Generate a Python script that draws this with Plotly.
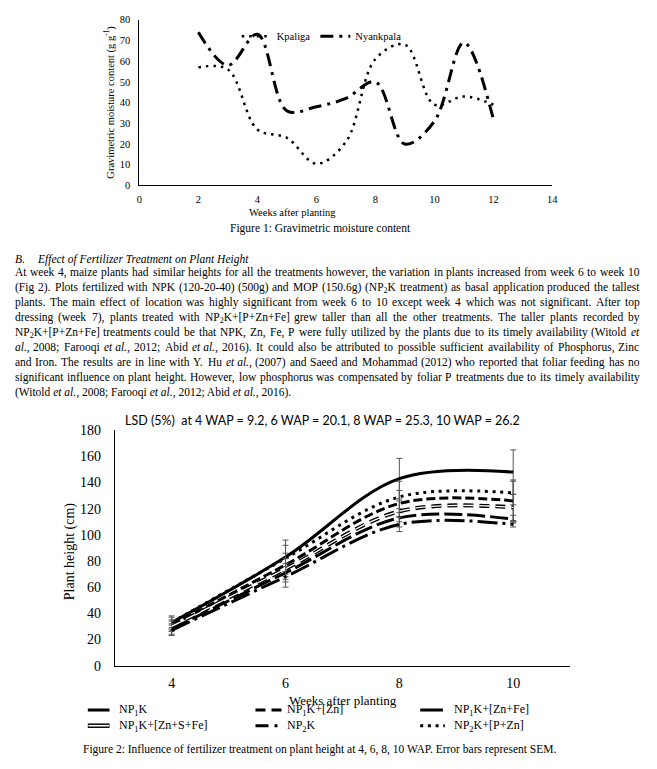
import re
import plotly.graph_objects as go

# ---------------- data ----------------
# Figure 1: gravimetric moisture content
weeks1 = [2, 3, 4, 5, 6, 7, 8, 9, 10, 11, 12]
kpaliga = [57, 56, 27, 23, 10.5, 21, 61, 68, 39, 43, 39]
nyankpala = [74, 58, 73, 36, 38, 42, 50, 20, 31, 69, 32]

# Figure 2: plant height (cm) at 4, 6, 8, 10 WAP
weeks2 = [4, 6, 8, 10]
np1k = [33, 83, 143, 148]
np2k_p_zn = [33, 82, 129, 132]
np1k_zn = [31, 77, 124, 126]
np1k_zn_s_fe = [30, 74, 118, 121]
np1k_zn_fe = [28, 71, 113, 112]
np2k = [27, 68, 108, 108]
# standard errors
se_np1k = [5, 13, 15.5, 17]
se_np2k_p_zn = [4, 10, 12, 9]
se_np1k_zn = [4, 9, 10, 16]
se_np1k_zn_s_fe = [4, 8, 8, 10]
se_np1k_zn_fe = [4, 7, 7, 3]
se_np2k = [4, 8, 5.5, 2]

names2 = ["NP<sub>1</sub>K", "NP<sub>1</sub>K+[Zn]", "NP<sub>1</sub>K+[Zn+Fe]",
          "NP<sub>1</sub>K+[Zn+S+Fe]", "NP<sub>2</sub>K", "NP<sub>2</sub>K+[P+Zn]"]

# ---------------- layout helpers ----------------
W, H = 657, 769
SERIF = "Liberation Serif, Times New Roman, serif"


def px(x):
    return x / W


def py(y):
    return 1 - y / H


fig = go.Figure()

# ---------------- Figure 1 traces ----------------
fig.add_trace(go.Scatter(
    x=weeks1, y=kpaliga, name="Kpaliga", mode="lines",
    line=dict(color="black", width=2.5, dash="2.5px,5px", shape="spline", smoothing=1),
    xaxis="x", yaxis="y", legend="legend"))
fig.add_trace(go.Scatter(
    x=weeks1, y=nyankpala, name="Nyankpala", mode="lines",
    line=dict(color="black", width=3, dash="13px,6px,3px,6px", shape="spline", smoothing=1),
    xaxis="x", yaxis="y", legend="legend"))

# ---------------- Figure 2 traces ----------------
EB = dict(type="data", visible=True, color="#555555", thickness=1, width=3)
series2 = [
    (np1k, se_np1k, dict(color="black", width=3, dash="solid")),
    (np2k_p_zn, se_np2k_p_zn, dict(color="black", width=3, dash="3px,4.7px")),
    (np1k_zn, se_np1k_zn, dict(color="black", width=3, dash="9px,4px")),
    (np1k_zn_s_fe, se_np1k_zn_s_fe, dict(color="black", width=4, dash="10px,6px")),
    (np1k_zn_fe, se_np1k_zn_fe, dict(color="black", width=3, dash="18px,5px")),
    (np2k, se_np2k, dict(color="black", width=3, dash="20px,5px,3px,5px")),
]
labels_order = [names2[0], names2[5], names2[1], names2[3], names2[2], names2[4]]
for (vals, se, ln), nm in zip(series2, labels_order):
    fig.add_trace(go.Scatter(
        x=weeks2, y=vals, name=nm, mode="lines",
        line=dict(shape="spline", smoothing=1, **ln),
        error_y=dict(array=se, **EB),
        xaxis="x2", yaxis="y2", showlegend=False))
# white core for the double line series
fig.add_trace(go.Scatter(
    x=weeks2, y=np1k_zn_s_fe, mode="lines", hoverinfo="skip",
    line=dict(color="white", width=1.3, dash="10px,6px", shape="spline", smoothing=1),
    xaxis="x2", yaxis="y2", showlegend=False))

# ---------------- axes ----------------
ax_common = dict(showline=True, linecolor="black", linewidth=1, showgrid=False,
                 zeroline=False, ticks="", fixedrange=True)
fig.update_layout(
    width=W, height=H,
    margin=dict(l=0, r=0, t=0, b=0),
    paper_bgcolor="white", plot_bgcolor="white",
    font=dict(family=SERIF, color="black"),
    xaxis=dict(domain=[px(138.3), px(557)], range=[0, 14], dtick=2, tick0=0,
               tickfont=dict(family=SERIF, size=10.5), ticklabelstandoff=4,
               anchor="y", **ax_common),
    yaxis=dict(domain=[py(182), py(13)], range=[0, 80], dtick=10, tick0=0,
               tickfont=dict(family=SERIF, size=10.5), ticklabelstandoff=6,
               anchor="x", **ax_common),
    xaxis2=dict(domain=[px(113.3), px(575)], range=[3, 11], tickvals=[4, 6, 8, 10],
                tickfont=dict(family=SERIF, size=14), ticklabelstandoff=5,
                anchor="y2", **ax_common),
    yaxis2=dict(domain=[py(671.7), py(431.7)], range=[0, 180], dtick=20, tick0=0,
                tickfont=dict(family=SERIF, size=14), ticklabelstandoff=10,
                anchor="x2", **ax_common),
    legend=dict(orientation="h", x=px(237), y=py(15), xanchor="left", yanchor="top",
                font=dict(family=SERIF, size=10.5), bgcolor="rgba(0,0,0,0)",
                itemwidth=30, tracegroupgap=0),
    showlegend=True,
)

# ---------------- text annotations ----------------
ann = []


def text(x, y, s, size, xanchor="center", angle=0, family=SERIF, yanchor="middle"):
    ann.append(dict(x=px(x), y=py(y), xref="paper", yref="paper", text=s,
                    showarrow=False, xanchor=xanchor, yanchor=yanchor,
                    borderpad=0, borderwidth=0,
                    textangle=angle, font=dict(family=family, size=size, color="black")))


text(108, 97, "Gravimetric moisture content (g g<sup>-1</sup>)", 10.5, angle=-90)
text(294, 210, "Weeks after planting", 10.5)
text(322, 226, "Figure 1: Gravimetric moisture content", 11.5)

PSIZE = 11.5
TOPOFF = 0.65 * PSIZE  # distance from line centre to top of the text box
text(12, 258 - TOPOFF, "<i>B.</i>", PSIZE, xanchor="left", yanchor="top")
text(34, 258 - TOPOFF, "<i>Effect of Fertilizer Treatment on Plant Height</i>", PSIZE,
     xanchor="left", yanchor="top")

para = [
    "At week 4, maize plants had similar heights for all the treatments however, the variation in plants increased from week 6 to week 10",
    "(Fig 2). Plots fertilized with NPK (120-20-40) (500g) and MOP (150.6g) (NP<sub>2</sub>K treatment) as basal application produced the tallest",
    "plants. The main effect of location was highly significant from week 6 to 10 except week 4 which was not significant. After top",
    "dressing (week 7), plants treated with NP<sub>2</sub>K+[P+Zn+Fe] grew taller than all the other treatments. The taller plants recorded by",
    "NP<sub>2</sub>K+[P+Zn+Fe] treatments could be that NPK, Zn, Fe, P were fully utilized by the plants due to its timely availability (Witold <i>et</i>",
    "<i>al.</i>, 2008; Farooqi <i>et al.</i>, 2012; Abid <i>et al.</i>, 2016). It could also be attributed to possible sufficient availability of Phosphorus, Zinc",
    "and Iron. The results are in line with Y. Hu <i>et al.</i>, (2007) and Saeed and Mohammad (2012) who reported that foliar feeding has no",
    "significant influence on plant height. However, low phosphorus was compensated by foliar P treatments due to its timely availability",
    "(Witold <i>et al.</i>, 2008; Farooqi <i>et al.</i>, 2012; Abid <i>et al.</i>, 2016).",
]

# Times-compatible advance widths (per 1000 em), used to justify the paragraph
TNR = {" ": 250, "(": 333, ")": 333, "[": 333, "]": 333, "+": 564, ",": 250, "-": 333,
       ".": 250, ":": 278, ";": 278, "%": 833}
TNR.update({c: 500 for c in "0123456789"})
TNR.update(dict(zip("abcdefghijklmnopqrstuvwxyz",
                    [444, 500, 444, 500, 444, 333, 500, 500, 278, 278, 500, 278, 778,
                     500, 500, 500, 500, 333, 389, 278, 500, 500, 722, 500, 500, 444])))
TNR.update(dict(zip("ABCDEFGHIJKLMNOPQRSTUVWXYZ",
                    [722, 667, 667, 722, 611, 556, 722, 722, 333, 389, 722, 611, 889,
                     722, 722, 556, 722, 667, 556, 611, 722, 722, 944, 722, 722, 611])))


def text_width(s, size):
    total, sub = 0.0, False
    for tok in re.split(r"(<[^>]+>)", s):
        if tok.startswith("<"):
            if tok == "<sub>":
                sub = True
            elif tok == "</sub>":
                sub = False
            continue
        f = size * (0.7 if sub else 1.0)
        total += sum(TNR.get(c, 500) for c in tok) / 1000.0 * f
    return total


def split_words(line):
    words = line.split(" ")
    tokens, cur, depth = [], [], 0
    for w in words:
        cur.append(w)
        depth += w.count("<i>") + w.count("<sub>") - w.count("</i>") - w.count("</sub>")
        if depth == 0:
            tokens.append(" ".join(cur))
            cur = []
    if cur:
        tokens.append(" ".join(cur))
    return tokens


LEFT, RIGHT = 12, 645
for i, line in enumerate(para):
    ytop = 272 + 15.2 * i - TOPOFF
    if i == len(para) - 1:
        text(LEFT, ytop, line, PSIZE, xanchor="left", yanchor="top")
        continue
    toks = split_words(line)
    widths = [text_width(t, PSIZE) for t in toks]
    sp = 0.25 * PSIZE
    gap = max(sp * 0.8, ((RIGHT - LEFT) - sum(widths)) / max(1, len(toks) - 1))
    xcur = LEFT
    for t, w in zip(toks, widths):
        text(xcur, ytop, t, PSIZE, xanchor="left", yanchor="top")
        xcur += w + gap

text(324, 422, "LSD (5%)  at 4 WAP = 9.2, 6 WAP = 20.1, 8 WAP = 25.3, 10 WAP = 26.2", 12.5,
     family="Lato, Open Sans, sans-serif")
text(68, 555, "Plant height (cm)", 14, angle=-90)
text(345, 707, "Weeks after planting", 13)
text(321, 757, "Figure 2: Influence of fertilizer treatment on plant height at 4, 6, 8, 10 WAP. Error bars represent SEM.", 11.5)

# ---------------- manual legend for figure 2 ----------------
shapes = []


def sample(x0, x1, y, width, dash, color="black"):
    shapes.append(dict(type="line", xref="paper", yref="paper",
                       x0=px(x0), x1=px(x1), y0=py(y), y1=py(y),
                       line=dict(color=color, width=width, dash=dash)))


row1, row2 = 717, 733
sample(86, 108, row1, 3, "solid")
text(118, row1, names2[0], 12, xanchor="left")
sample(86, 108, row2, 4.5, "solid")
sample(86.5, 107.5, row2, 1.6, "solid", color="white")
text(118, row2, names2[3], 12, xanchor="left")
sample(256, 284, row1, 3, "10px,6px")
text(288, row1, names2[1], 12, xanchor="left")
sample(256, 280, row2, 3, "13px,6px,3px,6px")
text(288, row2, names2[4], 12, xanchor="left")
sample(423, 446, row1, 3, "solid")
text(457, row1, names2[2], 12, xanchor="left")
sample(423, 448, row2, 3, "3px,4.7px")
text(457, row2, names2[5], 12, xanchor="left")

fig.update_layout(annotations=ann, shapes=shapes)

fig.write_html("out.html", config={"displayModeBar": False, "staticPlot": True},
               post_script="document.body.style.margin='0px';")
